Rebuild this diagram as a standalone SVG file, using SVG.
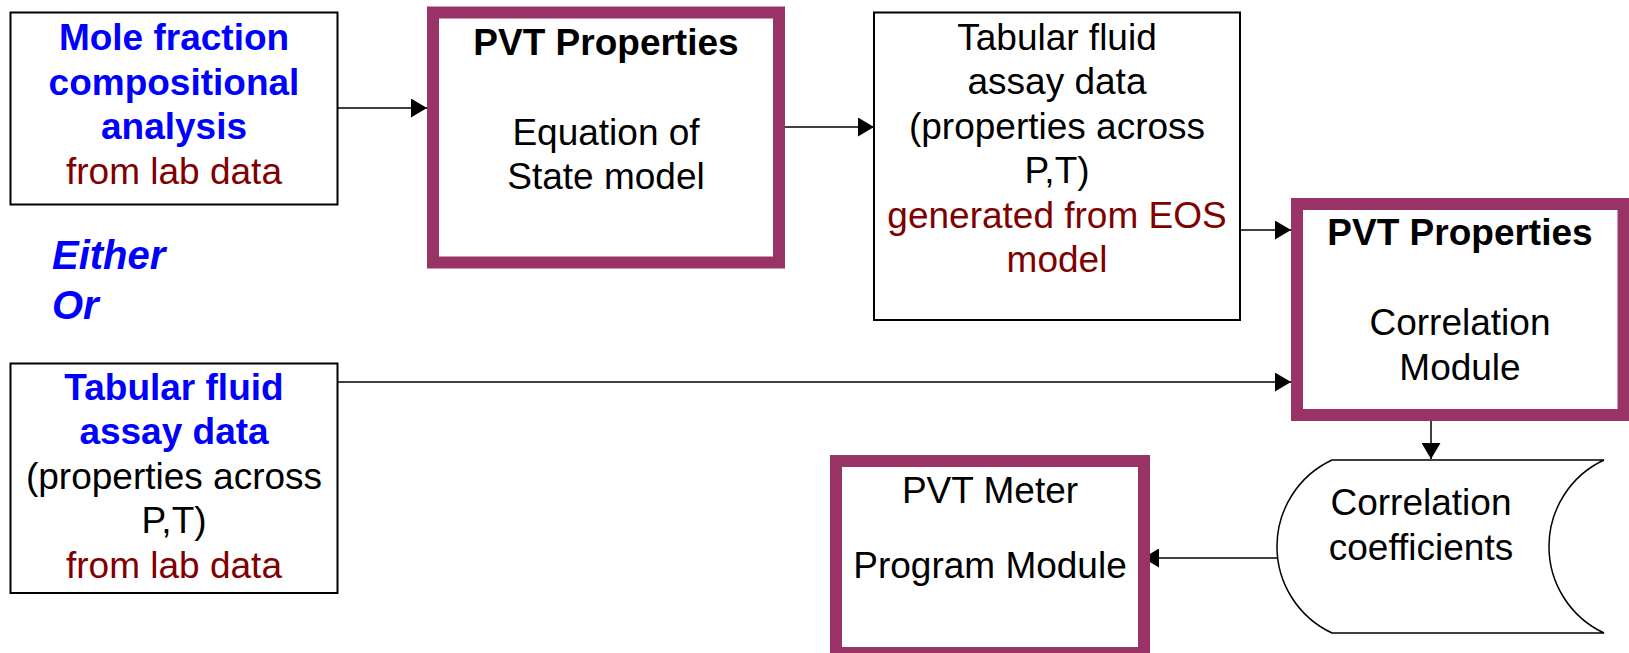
<svg xmlns="http://www.w3.org/2000/svg" width="1629" height="653" viewBox="0 0 1629 653">
<defs>
<style>
.t{font-family:"Liberation Sans",Arial,sans-serif;font-size:37px;text-anchor:middle;fill:#000}
.b{font-weight:bold}
.blue{fill:#0000FF}
.red{fill:#800000}
.box{fill:#fff;stroke:#000;stroke-width:2}
.pbox{fill:#fff;stroke:#993366;stroke-width:12}
.con{fill:none;stroke:#000;stroke-width:1.5}
</style>
<marker id="ah" viewBox="0 0 16 19" refX="16" refY="9.5" markerWidth="16" markerHeight="19" markerUnits="userSpaceOnUse" orient="auto">
<path d="M0,0 L16,9.5 L0,19 z" fill="#000"/>
</marker>
</defs>
<rect width="1629" height="653" fill="#fff"/>

<g id="connectors">
<line class="con" x1="337" y1="108" x2="427" y2="108" marker-end="url(#ah)"/>
<line class="con" x1="785" y1="127" x2="874" y2="127" marker-end="url(#ah)"/>
<line class="con" x1="1240" y1="230" x2="1291" y2="230" marker-end="url(#ah)"/>
<line class="con" x1="337" y1="382" x2="1291" y2="382" marker-end="url(#ah)"/>
<line class="con" x1="1431" y1="421" x2="1431" y2="459" marker-end="url(#ah)"/>
<line class="con" x1="1278" y1="558" x2="1143" y2="558" marker-end="url(#ah)"/>
</g>

<g id="node-mole">
<rect class="box" x="10.5" y="12.5" width="327" height="192"/>
<text class="t b blue" x="174" y="50">Mole fraction</text>
<text class="t b blue" x="174" y="94.5">compositional</text>
<text class="t b blue" x="174" y="139">analysis</text>
<text class="t red" x="174" y="183.5">from lab data</text>
</g>

<g id="node-eos">
<rect class="pbox" x="433" y="12.5" width="346" height="250"/>
<text class="t b" x="606" y="55">PVT Properties</text>
<text class="t" x="606" y="145">Equation of</text>
<text class="t" x="606" y="188.5">State model</text>
</g>

<g id="node-tabular-eos">
<rect class="box" x="874" y="12.5" width="366" height="307.5"/>
<text class="t" x="1057" y="50">Tabular fluid</text>
<text class="t" x="1057" y="94">assay data</text>
<text class="t" x="1057" y="138.5">(properties across</text>
<text class="t" x="1057" y="183">P,T)</text>
<text class="t red" x="1057" y="227.5">generated from EOS</text>
<text class="t red" x="1057" y="272">model</text>
</g>

<g id="either-or">
<text class="t b blue" style="font-size:40px;font-style:italic;text-anchor:start" x="52" y="269">Either</text>
<text class="t b blue" style="font-size:40px;font-style:italic;text-anchor:start" x="52" y="319">Or</text>
</g>

<g id="node-tabular-lab">
<rect class="box" x="10.5" y="363.5" width="327" height="229.5"/>
<text class="t b blue" x="174" y="400">Tabular fluid</text>
<text class="t b blue" x="174" y="444">assay data</text>
<text class="t" x="174" y="488.5">(properties across</text>
<text class="t" x="174" y="533">P,T)</text>
<text class="t red" x="174" y="577.5">from lab data</text>
</g>

<g id="node-correlation">
<rect class="pbox" x="1297" y="204" width="326.5" height="211"/>
<text class="t b" x="1460" y="245">PVT Properties</text>
<text class="t" x="1460" y="335">Correlation</text>
<text class="t" x="1460" y="380">Module</text>
</g>

<g id="node-coefficients">
<path d="M1332,460 L1604,460 A95.5,95.5 0 0 0 1604,633 L1332,633 A95.5,95.5 0 0 1 1332,460 Z" fill="#fff" stroke="#000" stroke-width="1.5"/>
<text class="t" x="1421" y="515">Correlation</text>
<text class="t" x="1421" y="560">coefficients</text>
</g>

<g id="node-meter">
<rect class="pbox" x="836" y="461" width="308" height="192"/>
<text class="t" x="990" y="503">PVT Meter</text>
<text class="t" x="990" y="578">Program Module</text>
</g>
</svg>
